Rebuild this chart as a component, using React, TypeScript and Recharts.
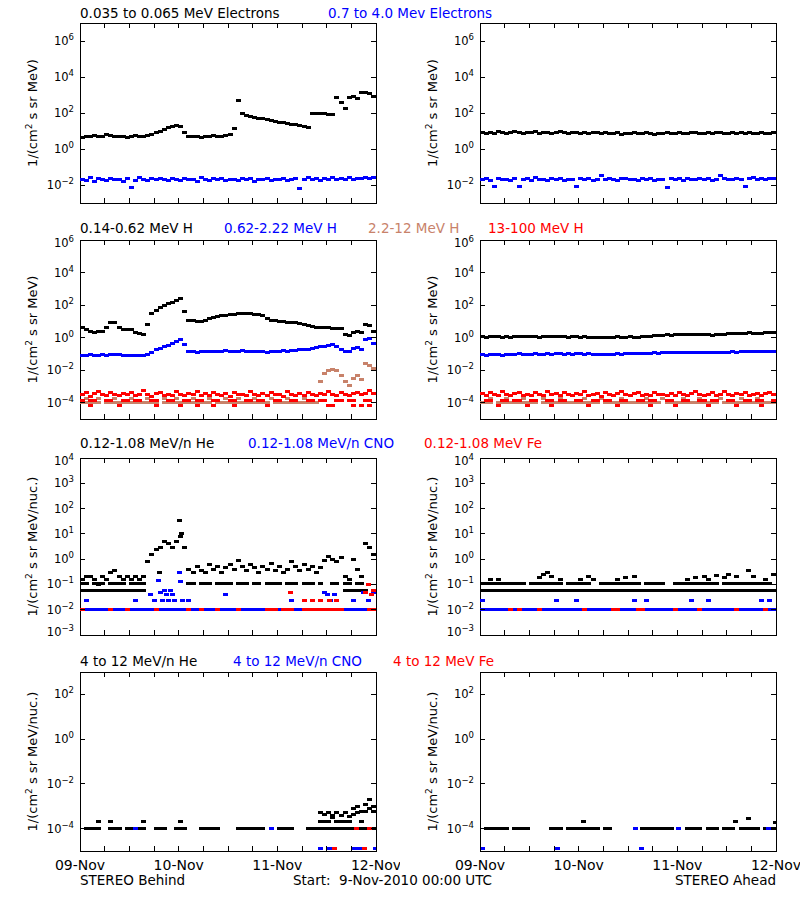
import React from "react";
import { ScatterChart, Scatter, XAxis, YAxis, ReferenceArea } from "recharts";

const N = null;
type V = number | null;
type Pt = { t: number; v: number };

// hours since 9-Nov-2010 00:00 UTC
const hourTicks = [0, 6, 12, 18, 24, 30, 36, 42, 48, 54, 60, 66, 72];
const dayLabels: Record<number, string> = { 0: "09-Nov", 24: "10-Nov", 48: "11-Nov", 72: "12-Nov" };

// ---- row 1: electrons (hourly values) ----
const eLoBehind: V[] = [
  4.5, 5, 4.8, 5.5, 5, 5.2, 6, 5.5, 5, 4.8, 5.2, 4.6,
  5, 5.5, 5, 4.8, 5.5, 6.5, 8, 10, 12, 15, 18, 20,
  17, 8, 5, 4.8, 5, 4.5, 5.2, 5, 5.5, 5, 4.8, 5.5,
  6, 14, 500, 100, 75, 65, 58, 52, 47, 43, 39, 35,
  31, 28, 26, 24, 22, 20, 18, 16, 100, 100, 95, 90,
  85, 80, 700, 400, 180, 750, 800, 650, 1300, 1400, 1200, 850,
];
const eHiBehind: V[] = [
  0.02, 0.018, 0.025, 0.015, 0.022, 0.02, 0.017, 0.024, 0.019, 0.021, 0.016, 0.023,
  0.007, 0.018, 0.026, 0.02, 0.017, 0.022, 0.019, 0.024, 0.021, 0.018, 0.024, 0.02,
  0.017, 0.023, 0.019, 0.021, 0.016, 0.025, 0.02, 0.018, 0.022, 0.019, 0.024, 0.017,
  0.021, 0.02, 0.018, 0.023, 0.019, 0.022, 0.016, 0.021, 0.02, 0.024, 0.018, 0.021,
  0.019, 0.022, 0.017, 0.02, 0.023, 0.006, 0.021, 0.025, 0.019, 0.022, 0.018, 0.024,
  0.02, 0.026, 0.019, 0.023, 0.021, 0.025, 0.02, 0.024, 0.022, 0.026, 0.023, 0.025,
];
const eLoAhead: V[] = [
  8, 7.5, 8.5, 7, 9, 8, 7.5, 8.5, 9.5, 8, 7, 8.5,
  8, 9, 7.5, 8, 8.5, 7, 8, 9, 8, 7.5, 8.5, 8,
  7.5, 8, 7, 8.5, 8, 7.5, 8, 7, 7.5, 8, 6.5, 7.5,
  7, 8, 7.5, 7, 8, 7.5, 6.5, 7, 7.5, 8, 7, 7.5,
  8, 7.5, 7, 8, 8.5, 7.5, 7, 8, 7.5, 8.5, 8, 7,
  7.5, 8, 7, 8.5, 7.5, 8, 7, 7.5, 8, 7, 7.5, 8,
];
const eHiAhead: V[] = [
  0.02, 0.022, 0.018, 0.008, 0.024, 0.019, 0.021, 0.017, 0.023, 0.008, 0.02, 0.022,
  0.018, 0.025, 0.019, 0.021, 0.017, 0.023, 0.02, 0.024, 0.018, 0.021, 0.019, 0.008,
  0.022, 0.02, 0.024, 0.018, 0.021, 0.033, 0.019, 0.023, 0.02, 0.017, 0.022, 0.024,
  0.019, 0.021, 0.018, 0.023, 0.02, 0.022, 0.017, 0.021, 0.019, 0.007, 0.024, 0.02,
  0.022, 0.018, 0.023, 0.021, 0.019, 0.024, 0.02, 0.022, 0.018, 0.021, 0.033, 0.023,
  0.02, 0.019, 0.024, 0.021, 0.008, 0.022, 0.025, 0.02, 0.023, 0.021, 0.024, 0.022,
];

// ---- row 2: protons ----
const hLoBehind: V[] = [
  4, 3, 2.3, 2.2, 2.3, 2.5, 4, 8, 9, 4, 3, 3.2,
  3, 2.2, 1.8, 1.6, 6, 30, 45, 70, 90, 120, 150, 180,
  250, 40, 12, 11, 10, 10, 11, 14, 18, 20, 22, 24,
  25, 27, 29, 30, 31, 30, 28, 27, 22, 16, 12, 11,
  10, 9.5, 9, 8.5, 8, 7, 6, 5.5, 5, 4.5, 4.2, 4,
  4, 3.8, 3.8, 3.5, 1.5, 1.4, 2.2, 2.3, 2.2, 6, 5.5, 2.5,
];
const hMidBehind: V[] = [
  0.085, 0.08, 0.09, 0.085, 0.08, 0.09, 0.085, 0.09, 0.095, 0.09, 0.085, 0.08,
  0.085, 0.08, 0.075, 0.08, 0.09, 0.13, 0.18, 0.22, 0.28, 0.35, 0.45, 0.55,
  0.75, 0.4, 0.15, 0.14, 0.13, 0.14, 0.15, 0.14, 0.15, 0.14, 0.15, 0.16,
  0.15, 0.14, 0.15, 0.16, 0.15, 0.14, 0.15, 0.15, 0.14, 0.13, 0.14, 0.15,
  0.15, 0.16, 0.15, 0.16, 0.17, 0.18, 0.18, 0.2, 0.22, 0.24, 0.27, 0.3,
  0.33, 0.36, 0.3, 0.2, 0.14, 0.15, 0.22, 0.24, 0.2, 0.8, 0.9, 0.45,
];
const hHiBehind: V[] = [
  1e-4, 1e-4, 1e-4, 1e-4, 1e-4, N, 1e-4, 1e-4, 1e-4, 1e-4, 1e-4, 1e-4,
  1e-4, 1e-4, 1e-4, 1e-4, 1e-4, 1e-4, 1e-4, N, 1e-4, 1e-4, 1e-4, 1e-4,
  1e-4, 1e-4, 1e-4, 1e-4, 1e-4, 1e-4, 1e-4, 1e-4, N, 1e-4, 1e-4, 1e-4,
  1e-4, 1e-4, 1e-4, 1e-4, 1e-4, 1e-4, 1e-4, 1e-4, 1e-4, 1e-4, N, 1e-4,
  1e-4, 1e-4, 1e-4, 1e-4, 1e-4, 1e-4, 1e-4, 1e-4, 1e-4, 1e-4, 0.002, 0.006,
  0.01, 0.011, 0.009, 0.005, 0.002, 0.0012, 0.003, 0.005, 0.0025, 0.025, 0.02, 0.013,
];
const hHiBehind2: number[][] = [
  [1.5, 1.9e-4], [4.5, 1.9e-4], [8.5, 1.9e-4], [12.5, 1.9e-4], [16.5, 1.9e-4], [20.5, 1.9e-4],
  [23.5, 1.9e-4], [27.5, 1.9e-4], [31.5, 1.9e-4], [35.5, 1.9e-4], [38.5, 1.9e-4], [42.5, 1.9e-4],
  [46.5, 1.9e-4], [50.5, 1.9e-4], [54.5, 1.9e-4],
];
const hTopBehind: V[] = [
  3e-4, 4e-4, 2.5e-4, 3.5e-4, 5e-4, 3e-4, 2.8e-4, 4.5e-4, 3.2e-4, 2.6e-4, 3.8e-4, 3e-4,
  4e-4, 2.7e-4, 3.3e-4, 5.5e-4, 3e-4, 2.5e-4, 3.6e-4, 4.2e-4, 2.9e-4, 3.4e-4, 2.6e-4, 4.8e-4,
  3.1e-4, 2.7e-4, 3.9e-4, 3e-4, 5e-4, 2.8e-4, 3.5e-4, 2.6e-4, 4e-4, 3.2e-4, 2.9e-4, 3.7e-4,
  2.5e-4, 4.3e-4, 3e-4, 3.4e-4, 2.7e-4, 5.2e-4, 3.1e-4, 2.8e-4, 3.6e-4, 2.6e-4, 4e-4, 3e-4,
  3.3e-4, 2.5e-4, 4.6e-4, 3e-4, 2.8e-4, 3.5e-4, 2.6e-4, 4.1e-4, 3.2e-4, 2.7e-4, 3.8e-4, 3e-4,
  5e-4, 3.1e-4, 2.6e-4, 4e-4, 3.3e-4, 2.8e-4, 3.6e-4, 4.4e-4, 3e-4, 3.5e-4, 5.5e-4, 3.8e-4,
];
const hTopBehindLow: V[] = [
  1.45e-4, N, 1.45e-4, 1.45e-4, N, N, 1.45e-4, 1.45e-4, N, N, 1.45e-4, 1.45e-4,
  N, 1.45e-4, 1.45e-4, N, N, 1.45e-4, 1.45e-4, N, N, 1.45e-4, 1.45e-4, N,
  N, 1.45e-4, 1.45e-4, N, 1.45e-4, 1.45e-4, N, N, 1.45e-4, 1.45e-4, N, N,
  1.45e-4, 1.45e-4, N, N, 1.45e-4, 1.45e-4, N, 1.45e-4, 1.45e-4, N, N, 1.45e-4,
  1.45e-4, N, N, 1.45e-4, 1.45e-4, N, N, 1.45e-4, 1.45e-4, N, 1.45e-4, 1.45e-4,
  N, N, 1.45e-4, 1.45e-4, N, 1.45e-4, 1.45e-4, N, N, 1.45e-4, 1.45e-4, N,
];
const hTopBehindOut: number[][] = [
  [2.5, 7e-5], [9.5, 7e-5], [18.5, 7e-5], [24.5, 7e-5], [28.5, 7e-5], [32.5, 7e-5], [37.5, 7e-5],
  [45.5, 7e-5], [60.5, 7e-5], [61.5, 7e-5], [66.5, 7e-5], [68.5, 7e-5], [70.5, 7e-5],
];

const hLoAhead: V[] = [
  1.1, 1.0, 1.1, 1.2, 1.1, 1.0, 1.1, 1.0, 1.1, 1.2, 1.1, 1.1,
  1.2, 1.1, 1.0, 1.1, 1.2, 1.1, 1.1, 1.2, 1.1, 1.0, 1.1, 1.1,
  1.0, 1.1, 1.0, 0.95, 1.0, 1.0, 0.95, 1.0, 1.0, 1.1, 1.0, 1.0,
  1.1, 1.0, 1.0, 1.1, 1.1, 1.2, 1.3, 1.4, 1.4, 1.5, 1.4, 1.5,
  1.6, 1.5, 1.5, 1.6, 1.5, 1.6, 1.5, 1.5, 1.4, 1.5, 1.5, 1.6,
  1.7, 1.8, 1.7, 1.8, 1.9, 2.0, 1.9, 1.8, 1.9, 2.0, 2.1, 2.0,
];
const hMidAhead: V[] = [
  0.09, 0.085, 0.09, 0.095, 0.09, 0.085, 0.09, 0.095, 0.09, 0.1, 0.095, 0.09,
  0.095, 0.1, 0.095, 0.09, 0.1, 0.095, 0.1, 0.1, 0.095, 0.1, 0.095, 0.1,
  0.1, 0.095, 0.1, 0.09, 0.095, 0.09, 0.095, 0.09, 0.095, 0.1, 0.095, 0.1,
  0.1, 0.105, 0.1, 0.11, 0.105, 0.11, 0.115, 0.11, 0.115, 0.12, 0.115, 0.12,
  0.12, 0.125, 0.12, 0.13, 0.125, 0.12, 0.125, 0.13, 0.125, 0.13, 0.13, 0.125,
  0.13, 0.135, 0.13, 0.14, 0.135, 0.14, 0.135, 0.14, 0.145, 0.14, 0.15, 0.145,
];
const hHiAhead: V[] = [
  1e-4, 1e-4, 1e-4, N, 1e-4, 1e-4, 1e-4, 1e-4, 1e-4, 1e-4, 1e-4, 1e-4,
  1e-4, 1e-4, N, 1e-4, 1e-4, 1e-4, 1e-4, 1e-4, 1e-4, 1e-4, 1e-4, 1e-4,
  1e-4, 1e-4, 1e-4, 1e-4, 1e-4, N, 1e-4, 1e-4, 1e-4, 1e-4, 1e-4, 1e-4,
  1e-4, 1e-4, 1e-4, 1e-4, 1e-4, 1e-4, 1e-4, 1e-4, N, 1e-4, 1e-4, 1e-4,
  1e-4, 1e-4, 1e-4, 1e-4, 1e-4, 1e-4, 1e-4, 1e-4, 1e-4, 1e-4, N, 1e-4,
  1e-4, 1e-4, 1e-4, 1e-4, 1e-4, 1e-4, 1e-4, 1e-4, 1e-4, 1e-4, 1e-4, 1e-4,
];
const hHiAhead2: number[][] = [
  [2.5, 1.9e-4], [6.5, 1.9e-4], [10.5, 1.9e-4], [15.5, 1.9e-4], [19.5, 1.9e-4], [25.5, 1.9e-4],
  [29.5, 1.9e-4], [34.5, 1.9e-4], [40.5, 1.9e-4], [44.5, 1.9e-4], [49.5, 1.9e-4], [53.5, 1.9e-4],
  [58.5, 1.9e-4], [63.5, 1.9e-4], [67.5, 1.9e-4],
];
const hTopAhead: V[] = [
  3.5e-4, 2.7e-4, 4.2e-4, 3e-4, 2.6e-4, 4.8e-4, 3.1e-4, 2.8e-4, 3.7e-4, 4.4e-4, 2.9e-4, 3.3e-4,
  2.6e-4, 4e-4, 3.2e-4, 2.7e-4, 5e-4, 3e-4, 3.5e-4, 2.6e-4, 4.1e-4, 3e-4, 2.8e-4, 3.9e-4,
  3.3e-4, 4.6e-4, 2.7e-4, 3.1e-4, 3.6e-4, 2.5e-4, 4.3e-4, 3e-4, 2.9e-4, 3.8e-4, 5.2e-4, 3.2e-4,
  2.7e-4, 3.5e-4, 4e-4, 2.8e-4, 3.3e-4, 2.6e-4, 4.5e-4, 3e-4, 3.4e-4, 2.9e-4, 3.9e-4, 2.7e-4,
  4.2e-4, 3.1e-4, 2.6e-4, 3.6e-4, 4.9e-4, 3e-4, 2.8e-4, 3.4e-4, 4e-4, 2.7e-4, 3.2e-4, 4.6e-4,
  3e-4, 2.6e-4, 3.7e-4, 3.3e-4, 4.4e-4, 2.8e-4, 3.1e-4, 3.9e-4, 2.7e-4, 3.5e-4, 4.1e-4, 3e-4,
];
const hTopAheadLow: V[] = [
  N, 1.45e-4, 1.45e-4, N, N, 1.45e-4, 1.45e-4, N, 1.45e-4, 1.45e-4, N, N,
  1.45e-4, 1.45e-4, N, N, 1.45e-4, 1.45e-4, N, 1.45e-4, 1.45e-4, N, N, 1.45e-4,
  1.45e-4, N, N, 1.45e-4, 1.45e-4, N, 1.45e-4, 1.45e-4, N, N, 1.45e-4, 1.45e-4,
  N, N, 1.45e-4, 1.45e-4, N, 1.45e-4, 1.45e-4, N, N, 1.45e-4, 1.45e-4, N,
  N, 1.45e-4, 1.45e-4, N, N, 1.45e-4, 1.45e-4, N, 1.45e-4, 1.45e-4, N, N,
  1.45e-4, 1.45e-4, N, N, 1.45e-4, 1.45e-4, N, 1.45e-4, 1.45e-4, N, N, 1.45e-4,
];
const hTopAheadOut: number[][] = [
  [4.5, 7e-5], [11.5, 7e-5], [17.5, 7e-5], [26.5, 7e-5], [33.5, 7e-5], [41.5, 7e-5],
  [47.5, 7e-5], [55.5, 7e-5], [62.5, 7e-5], [68.5, 7e-5],
];

// ---- row 3: 0.12-1.08 MeV/n ions ----
const heBehind: V[] = [
  0.15, 0.2, 0.2, 0.15, 0.1, 0.2, 0.15, 0.3, 0.35, 0.2, 0.15, 0.2,
  0.15, 0.2, 0.15, 0.2, 0.8, 1.5, 2.5, 3, 5, 4, 3, 5,
  8, 3, 0.4, 0.3, 0.5, 0.35, 0.3, 0.6, 0.4, 0.5, 0.3, 0.45,
  0.6, 0.4, 0.9, 0.5, 0.35, 0.6, 0.45, 0.3, 0.5, 0.4, 0.7, 0.35,
  0.5, 0.3, 0.4, 0.8, 0.5, 0.35, 0.6, 0.4, 0.5, 0.3, 0.45, 0.9,
  1.3, 1, 0.8, 1.2, 0.2, 0.15, 1, 0.4, 0.2, 4, 3, 1.5,
];
const heBehindSpike: number[][] = [[24.2, 35], [24.6, 10], [19.3, 0.3]];
const heBehindTenth: V[] = [
  0.105, 0.105, N, 0.105, 0.105, 0.105, N, 0.105, 0.105, 0.105, 0.105, N,
  0.105, 0.105, 0.105, 0.105, N, N, N, N, N, N, N, N,
  N, N, 0.105, 0.105, N, 0.105, 0.105, 0.105, N, 0.105, 0.105, 0.105,
  0.105, N, 0.105, 0.105, 0.105, N, 0.105, 0.105, N, 0.105, 0.105, 0.105,
  0.105, N, 0.105, 0.105, 0.105, N, 0.105, 0.105, 0.105, N, 0.105, N,
  N, 0.105, 0.105, N, 0.105, 0.105, N, 0.105, 0.105, N, N, N,
];
const heBehindTwentieth: V[] = [
  0.055, 0.055, 0.055, 0.055, 0.055, 0.055, 0.055, 0.055, 0.055, 0.055, 0.055, 0.055,
  0.055, 0.055, 0.055, 0.055, N, N, N, N, N, N, N, N,
  N, N, N, N, N, N, N, N, N, N, N, N,
  N, N, N, N, N, N, N, N, N, N, N, N,
  N, N, N, N, N, N, N, N, N, N, N, N,
  N, N, N, N, 0.055, 0.055, 0.055, 0.055, 0.055, 0.055, N, N,
];
const cnoBehind: V[] = [
  N, 0.0105, 0.0105, 0.0105, 0.0105, 0.0105, 0.0105, N, 0.0105, 0.0105, 0.0105, N,
  0.0105, 0.0105, 0.0105, 0.0105, 0.0105, 0.0105, N, 0.0105, 0.0105, 0.0105, 0.0105, 0.0105,
  0.0105, 0.0105, N, 0.0105, 0.0105, N, 0.0105, 0.0105, 0.0105, N, 0.0105, 0.0105,
  0.0105, 0.0105, N, 0.0105, 0.0105, 0.0105, 0.0105, 0.0105, 0.0105, N, N, N,
  0.0105, N, N, N, 0.0105, 0.0105, N, N, N, N, N, N,
  N, N, N, N, 0.0105, 0.0105, 0.0105, 0.0105, 0.0105, 0.0105, N, N,
];
const cnoBehindUp: number[][] = [
  [1.5, 0.024], [13.5, 0.024], [17.2, 0.04], [18, 0.024], [19, 0.14], [19.5, 0.05], [20, 0.024],
  [20.5, 0.06], [21, 0.04], [21.5, 0.024], [22, 0.06], [22.5, 0.04], [23, 0.024], [24.1, 0.3],
  [24.5, 0.13], [25, 0.024], [26.5, 0.024], [35.5, 0.04], [51.5, 0.024], [59.5, 0.05], [60.2, 0.04],
  [61, 0.024], [62, 0.04], [66.5, 0.024], [69, 0.05], [70.2, 0.024], [71.5, 0.05],
];
const feBehind: V[] = [
  0.0105, N, N, N, N, N, N, 0.0105, N, N, N, 0.0105,
  N, N, N, N, N, N, 0.0105, N, N, N, N, N,
  N, N, 0.0105, N, N, 0.0105, N, N, N, 0.0105, N, N,
  N, N, 0.0105, N, N, N, N, N, N, 0.0105, 0.0105, 0.0105,
  N, 0.0105, 0.0105, 0.0105, N, N, 0.0105, 0.0105, 0.0105, 0.0105, 0.0105, 0.0105,
  0.0105, 0.0105, 0.0105, 0.0105, N, N, N, N, N, N, 0.0105, 0.0105,
];
const feBehindUp: number[][] = [
  [51.2, 0.05], [54.5, 0.024], [56.5, 0.024], [58.5, 0.024], [60.8, 0.024], [62.5, 0.024],
  [69.5, 0.05], [70.2, 0.1], [70.8, 0.04], [71.5, 0.06],
];

const heAhead: number[][] = [
  [2.5, 0.15], [4.5, 0.15], [14.5, 0.18], [15.5, 0.25], [16.3, 0.3], [17.5, 0.2], [19.5, 0.15],
  [24.5, 0.15], [26.5, 0.2], [27.5, 0.15], [33.5, 0.15], [35.5, 0.18], [37.5, 0.2], [50.5, 0.15],
  [52.5, 0.18], [54.5, 0.2], [55.5, 0.15], [57.5, 0.22], [59.5, 0.18], [60.5, 0.25], [62.5, 0.2],
  [65.3, 0.35], [66.5, 0.2], [69.5, 0.15], [71.5, 0.25],
];
const heAheadTenth: V[] = [
  0.105, 0.105, 0.105, 0.105, 0.105, 0.105, 0.105, 0.105, 0.105, 0.105, 0.105, N,
  0.105, 0.105, 0.105, 0.105, 0.105, 0.105, 0.105, 0.105, N, 0.105, 0.105, 0.105,
  0.105, 0.105, 0.105, N, N, 0.105, 0.105, 0.105, 0.105, 0.105, 0.105, 0.105,
  0.105, 0.105, 0.105, N, 0.105, 0.105, 0.105, 0.105, 0.105, N, N, 0.105,
  0.105, 0.105, 0.105, 0.105, 0.105, 0.105, 0.105, 0.105, 0.105, 0.105, N, 0.105,
  0.105, 0.105, 0.105, 0.105, 0.105, 0.105, 0.105, 0.105, 0.105, 0.105, 0.105, N,
];
const heAheadTwentieth: V[] = [
  0.055, 0.055, 0.055, 0.055, 0.055, 0.055, 0.055, 0.055, 0.055, 0.055, 0.055, 0.055,
  0.055, 0.055, 0.055, 0.055, 0.055, 0.055, 0.055, 0.055, 0.055, 0.055, 0.055, 0.055,
  0.055, 0.055, 0.055, 0.055, 0.055, 0.055, 0.055, 0.055, 0.055, 0.055, 0.055, 0.055,
  0.055, 0.055, 0.055, 0.055, 0.055, 0.055, 0.055, 0.055, 0.055, 0.055, 0.055, 0.055,
  0.055, 0.055, 0.055, 0.055, 0.055, 0.055, 0.055, 0.055, 0.055, 0.055, 0.055, 0.055,
  0.055, 0.055, 0.055, 0.055, 0.055, 0.055, 0.055, 0.055, 0.055, 0.055, 0.055, 0.055,
];
const cnoAhead: V[] = [
  0.0105, 0.0105, 0.0105, 0.0105, 0.0105, 0.0105, 0.0105, N, 0.0105, N, 0.0105, 0.0105,
  0.0105, 0.0105, N, 0.0105, 0.0105, 0.0105, 0.0105, 0.0105, 0.0105, 0.0105, 0.0105, 0.0105,
  0.0105, N, 0.0105, 0.0105, 0.0105, 0.0105, 0.0105, 0.0105, N, N, 0.0105, 0.0105,
  0.0105, 0.0105, N, N, 0.0105, 0.0105, 0.0105, 0.0105, 0.0105, 0.0105, 0.0105, N,
  0.0105, 0.0105, 0.0105, 0.0105, 0.0105, N, 0.0105, 0.0105, 0.0105, 0.0105, 0.0105, 0.0105,
  0.0105, 0.0105, N, 0.0105, 0.0105, 0.0105, 0.0105, 0.0105, 0.0105, N, 0.0105, 0.0105,
];
const cnoAheadUp: number[][] = [
  [0.5, 0.024], [18.7, 0.024], [23.5, 0.024], [37.5, 0.024], [40.5, 0.024], [51.5, 0.024],
  [55.5, 0.024], [68.5, 0.024], [70.5, 0.024],
];
const feAhead: V[] = [
  N, N, N, N, N, N, N, 0.0105, N, 0.0105, N, N,
  N, N, 0.0105, N, N, N, N, N, N, N, N, N,
  N, 0.0105, N, N, N, N, N, N, 0.0105, 0.0105, N, N,
  N, N, 0.0105, 0.0105, N, N, N, N, N, N, N, 0.0105,
  N, N, N, N, N, 0.0105, N, N, N, N, N, N,
  N, N, 0.0105, N, N, N, N, N, N, 0.0105, N, N,
];

// ---- row 4: 4-12 MeV/n ions ----
const he4BehindBase: V[] = [
  N, 1e-4, 1e-4, 1e-4, 1e-4, N, N, 1e-4, 1e-4, 1e-4, N, 1e-4,
  1e-4, N, 1e-4, 1e-4, N, N, 1e-4, 1e-4, 1e-4, N, N, 1e-4,
  1e-4, 1e-4, N, N, N, 1e-4, 1e-4, 1e-4, 1e-4, 1e-4, N, N,
  N, N, 1e-4, 1e-4, 1e-4, 1e-4, 1e-4, 1e-4, 1e-4, N, N, N,
  1e-4, 1e-4, 1e-4, 1e-4, N, N, N, 1e-4, 1e-4, 1e-4, 1e-4, 1e-4,
  1e-4, 1e-4, 1e-4, 1e-4, 1e-4, 1e-4, 1e-4, N, 1e-4, 1e-4, 1e-4, 1e-4,
];
const he4Behind: V[] = [
  N, N, N, N, 2e-4, N, N, 2e-4, N, N, N, N,
  N, N, N, 2e-4, N, N, N, N, N, N, N, N,
  2e-4, N, N, N, N, N, N, N, N, N, N, N,
  N, N, N, N, N, N, N, N, N, N, N, N,
  N, N, N, N, N, N, N, N, N, N, 5e-4, 4.5e-4,
  5.5e-4, 4e-4, 5e-4, 4e-4, 5e-4, 3.5e-4, 8e-4, 1e-3, 6e-4, 1.2e-3, 2e-3, 1e-3,
];
const he4BehindLow: V[] = [
  N, N, N, N, N, N, N, N, N, N, N, N,
  N, N, N, N, N, N, N, N, N, N, N, N,
  N, N, N, N, N, N, N, N, N, N, N, N,
  N, N, N, N, N, N, N, N, N, N, N, N,
  N, N, N, N, N, N, N, N, N, N, 2e-4, 2e-4,
  2e-4, 3e-4, 2e-4, 2e-4, 2e-4, 2e-4, 4.5e-4, 5e-4, 2e-4, 6e-4, 8e-4, 6e-4,
];
const cno4Behind: number[][] = [
  [13.4, 1e-4], [46.6, 1e-4], [58.4, 1.25e-5], [60.8, 1.25e-5], [66.5, 1.25e-5],
  [67.7, 1.25e-5], [68.9, 1.25e-5], [71.8, 1.25e-5],
];
const fe4Behind: number[][] = [[67.3, 1e-4], [70.5, 1e-4], [62, 1.25e-5], [69.3, 1.25e-5]];

const he4AheadBase: V[] = [
  N, 1e-4, 1e-4, 1e-4, 1e-4, 1e-4, 1e-4, N, 1e-4, 1e-4, 1e-4, 1e-4,
  N, N, N, N, N, 1e-4, 1e-4, 1e-4, N, 1e-4, 1e-4, 1e-4,
  1e-4, 1e-4, 1e-4, 1e-4, 1e-4, N, 1e-4, 1e-4, N, N, N, N,
  N, N, N, 1e-4, 1e-4, 1e-4, 1e-4, 1e-4, 1e-4, 1e-4, 1e-4, N,
  N, N, 1e-4, 1e-4, 1e-4, 1e-4, N, 1e-4, 1e-4, 1e-4, N, 1e-4,
  1e-4, 1e-4, N, 1e-4, 1e-4, 1e-4, 1e-4, 1e-4, N, 1e-4, 1e-4, 1e-4,
];
const he4Ahead: number[][] = [[25.1, 2e-4], [62.2, 2e-4], [65.4, 2.7e-4], [71.8, 1.8e-4]];
const cno4Ahead: number[][] = [
  [37.9, 1e-4], [48.4, 1e-4], [70.1, 1e-4], [0.6, 1.25e-5], [18.9, 1.25e-5], [39.2, 1.25e-5],
];

const BLACK = "#000000";
const BLUE = "#0000ff";
const RED = "#ff0000";
const BROWN = "#c8826a";

const hourly = (vals: V[]): Pt[] => vals.flatMap((v, i) => (v == null ? [] : [{ t: i + 0.5, v }]));
const pairs = (list: number[][]): Pt[] => list.map(([t, v]) => ({ t, v }));

const PLOT_W = 296;
const FONT = "DejaVu Sans, Verdana, sans-serif";

type Series = { data: Pt[]; color: string };
type PanelProps = {
  left: number;
  top: number;
  height: number;
  domain: [number, number];
  ticks: number[];
  series: Series[];
  xLabels: boolean;
};

function Dot(props: any) {
  const { cx, cy, color } = props;
  if (cx == null || cy == null) return null;
  return <rect x={cx - 2.5} y={cy - 1.5} width={5} height={3} fill={color} shapeRendering="crispEdges" />;
}

function Panel({ left, top, height, domain, ticks, series, xLabels }: PanelProps) {
  const xTick = (p: any) => {
    const { x, y, payload } = p;
    const label = dayLabels[payload.value];
    return (
      <g>
        <line x1={x} x2={x} y1={y} y2={y - 5} stroke="#000" shapeRendering="crispEdges" />
        <line x1={x} x2={x} y1={y - height} y2={y - height + 5} stroke="#000" shapeRendering="crispEdges" />
        {xLabels && label && (
          <text x={x} y={y + 19} textAnchor="middle" fontSize={14} fontFamily={FONT} fill="#000">
            {label}
          </text>
        )}
      </g>
    );
  };
  const yTick = (p: any) => {
    const { x, y, payload } = p;
    const exp = Math.round(Math.log10(payload.value));
    // labels at the frame corners sit a little inside, as in the original plot
    const ly = y <= 21 ? y + 3 : y >= 20 + height - 1 ? y - 3 : y;
    return (
      <g>
        <line x1={x} x2={x + 5} y1={y} y2={y} stroke="#000" shapeRendering="crispEdges" />
        <line x1={x + PLOT_W - 5} x2={x + PLOT_W} y1={y} y2={y} stroke="#000" shapeRendering="crispEdges" />
        <text x={x - 6} y={ly + 4} textAnchor="end" fontSize={11.5} fontFamily={FONT} fill="#000">
          10
          <tspan dy={-5} fontSize={8.5}>
            {exp < 0 ? `\u2212${-exp}` : `${exp}`}
          </tspan>
        </text>
      </g>
    );
  };
  return (
    <div style={{ position: "absolute", left, top: top - 20 }}>
      <ScatterChart width={400} height={height + 60} margin={{ top: 20, right: 24, bottom: 39, left: 79 }}>
        <XAxis
          dataKey="t"
          type="number"
          domain={[0, 72]}
          ticks={hourTicks}
          interval={0}
          height={1}
          tickSize={0}
          tickMargin={0}
          axisLine={false}
          tickLine={false}
          tick={xTick}
          allowDataOverflow
        />
        <YAxis
          dataKey="v"
          type="number"
          scale="log"
          domain={domain}
          ticks={ticks}
          interval={0}
          width={1}
          tickSize={0}
          tickMargin={0}
          axisLine={false}
          tickLine={false}
          tick={yTick}
          allowDataOverflow
        />
        {series.map((s, i) => (
          <Scatter
            key={i}
            data={s.data}
            fill={s.color}
            isAnimationActive={false}
            shape={(p: any) => <Dot {...p} color={s.color} />}
          />
        ))}
        <ReferenceArea
          x1={0}
          x2={72}
          y1={domain[0]}
          y2={domain[1]}
          fill="none"
          fillOpacity={0}
          stroke="#000"
          strokeWidth={1}
          ifOverflow="visible"
          shapeRendering="crispEdges"
        />
      </ScatterChart>
    </div>
  );
}

const rows = [
  { top: 23, height: 180, domain: [1e-3, 1e7] as [number, number], ticks: [1e-2, 1, 1e2, 1e4, 1e6], unit: "MeV)" },
  { top: 240, height: 179, domain: [1e-5, 1e6] as [number, number], ticks: [1e-4, 1e-2, 1, 1e2, 1e4, 1e6], unit: "MeV)" },
  { top: 458, height: 177, domain: [1e-3, 1e4] as [number, number], ticks: [1e-3, 1e-2, 1e-1, 1, 10, 1e2, 1e3, 1e4], unit: "MeV/nuc.)" },
  { top: 672, height: 179, domain: [1e-5, 1e3] as [number, number], ticks: [1e-4, 1e-2, 1, 1e2], unit: "MeV/nuc.)" },
];

const panelSeries: Series[][][] = [
  [
    [
      { data: hourly(eLoBehind), color: BLACK },
      { data: hourly(eHiBehind), color: BLUE },
    ],
    [
      { data: hourly(eLoAhead), color: BLACK },
      { data: hourly(eHiAhead), color: BLUE },
    ],
  ],
  [
    [
      { data: hourly(hLoBehind), color: BLACK },
      { data: hourly(hMidBehind), color: BLUE },
      { data: hourly(hHiBehind), color: BROWN },
      { data: pairs(hHiBehind2), color: BROWN },
      { data: hourly(hTopBehind), color: RED },
      { data: hourly(hTopBehindLow), color: RED },
      { data: pairs(hTopBehindOut), color: RED },
    ],
    [
      { data: hourly(hLoAhead), color: BLACK },
      { data: hourly(hMidAhead), color: BLUE },
      { data: hourly(hHiAhead), color: BROWN },
      { data: pairs(hHiAhead2), color: BROWN },
      { data: hourly(hTopAhead), color: RED },
      { data: hourly(hTopAheadLow), color: RED },
      { data: pairs(hTopAheadOut), color: RED },
    ],
  ],
  [
    [
      { data: hourly(heBehind), color: BLACK },
      { data: pairs(heBehindSpike), color: BLACK },
      { data: hourly(heBehindTenth), color: BLACK },
      { data: hourly(heBehindTwentieth), color: BLACK },
      { data: hourly(cnoBehind), color: BLUE },
      { data: pairs(cnoBehindUp), color: BLUE },
      { data: hourly(feBehind), color: RED },
      { data: pairs(feBehindUp), color: RED },
    ],
    [
      { data: pairs(heAhead), color: BLACK },
      { data: hourly(heAheadTenth), color: BLACK },
      { data: hourly(heAheadTwentieth), color: BLACK },
      { data: hourly(cnoAhead), color: BLUE },
      { data: pairs(cnoAheadUp), color: BLUE },
      { data: hourly(feAhead), color: RED },
    ],
  ],
  [
    [
      { data: hourly(he4BehindBase), color: BLACK },
      { data: hourly(he4Behind), color: BLACK },
      { data: hourly(he4BehindLow), color: BLACK },
      { data: pairs(cno4Behind), color: BLUE },
      { data: pairs(fe4Behind), color: RED },
    ],
    [
      { data: hourly(he4AheadBase), color: BLACK },
      { data: pairs(he4Ahead), color: BLACK },
      { data: pairs(cno4Ahead), color: BLUE },
    ],
  ],
];

const titles: { text: string; x: number; y: number; color: string }[] = [
  { text: "0.035 to 0.065 MeV Electrons", x: 80, y: 18, color: BLACK },
  { text: "0.7 to 4.0 Mev Electrons", x: 328, y: 18, color: BLUE },
  { text: "0.14-0.62 MeV H", x: 80, y: 233, color: BLACK },
  { text: "0.62-2.22 MeV H", x: 224, y: 233, color: BLUE },
  { text: "2.2-12 MeV H", x: 368, y: 233, color: BROWN },
  { text: "13-100 MeV H", x: 488, y: 233, color: RED },
  { text: "0.12-1.08 MeV/n He", x: 80, y: 448, color: BLACK },
  { text: "0.12-1.08 MeV/n CNO", x: 248, y: 448, color: BLUE },
  { text: "0.12-1.08 MeV Fe", x: 424, y: 448, color: RED },
  { text: "4 to 12 MeV/n He", x: 80, y: 666, color: BLACK },
  { text: "4 to 12 MeV/n CNO", x: 233, y: 666, color: BLUE },
  { text: "4 to 12 MeV Fe", x: 393, y: 666, color: RED },
];

export default function App() {
  return (
    <div style={{ position: "absolute", left: 0, top: 0, width: 800, height: 900, background: "#fff", overflow: "hidden" }}>
      <svg width={800} height={900} style={{ position: "absolute", left: 0, top: 0 }} fontFamily={FONT}>
        {titles.map((t) => (
          <text key={t.text} x={t.x} y={t.y} fill={t.color} fontSize={13.5}>
            {t.text}
          </text>
        ))}
        {rows.map((r, i) =>
          [37, 437].map((bx) => (
            <text
              key={`${i}-${bx}`}
              transform={`translate(${bx},${r.top + r.height / 2}) rotate(-90)`}
              textAnchor="middle"
              fontSize={13}
              fill="#000"
            >
              1/(cm
              <tspan dy={-5} fontSize={9}>
                2
              </tspan>
              <tspan dy={5}> s sr {r.unit}</tspan>
            </text>
          ))
        )}
        <text x={80} y={885} fontSize={13.5}>
          STEREO Behind
        </text>
        <text x={293} y={885} fontSize={13.5} style={{ whiteSpace: "pre" }}>
          {"Start:  9-Nov-2010 00:00 UTC"}
        </text>
        <text x={776} y={885} fontSize={13.5} textAnchor="end">
          STEREO Ahead
        </text>
      </svg>
      {rows.map((r, i) =>
        [0, 400].map((left, j) => (
          <Panel
            key={`${i}-${j}`}
            left={left}
            top={r.top}
            height={r.height}
            domain={r.domain}
            ticks={r.ticks}
            series={panelSeries[i][j]}
            xLabels={i === 3}
          />
        ))
      )}
    </div>
  );
}
